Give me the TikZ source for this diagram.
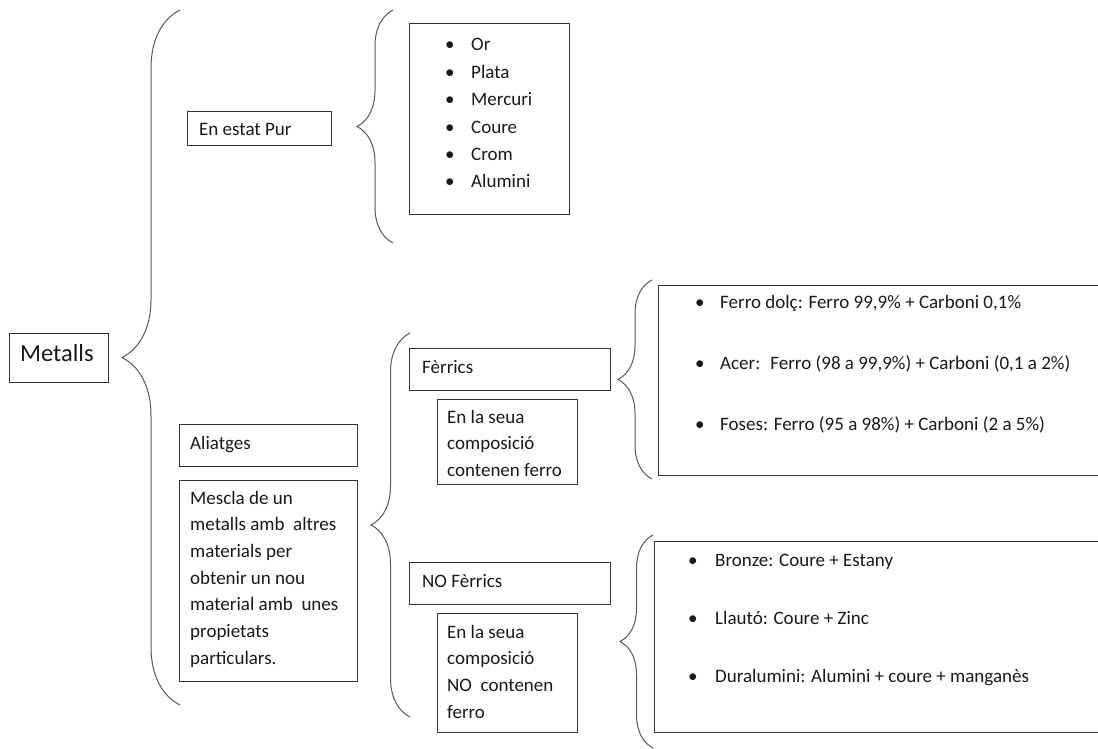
\documentclass[tikz,border=0pt]{standalone}
\usepackage{fontspec}
\setmainfont{Carlito}
\usepackage{tikz}
\usetikzlibrary{
  positioning,
  decorations.pathreplacing
}
\tikzset{>=stealth}
\tikzset{
  box/.style={draw=black!80, line width=1.2pt, inner sep=0pt, anchor=north west},
  curly/.style={draw=black!65, line width=1pt, decorate, decoration={brace, amplitude=#1pt}},
  txt/.style={anchor=base west, inner sep=0pt, text=black!90, font=\fontsize{19}{26.7}\selectfont},
  bigtxt/.style={txt, font=\fontsize{24.5}{30}\selectfont},
  dot/.style={txt, font=\fontsize{19}{#1}\selectfont}
}
\newcommand{\itm}[2]{\makebox[#1pt][l]{\textbullet}#2}
\newcommand{\rows}[1]{\begin{tabular}[t]{@{}l@{}}#1\end{tabular}}

\begin{document}
\begin{tikzpicture}[x=1pt, y=-1pt]
	\clip (0,0) rectangle (1098,749);
	\fill[white] (0,0) rectangle (1098,749);
	\node[box, minimum width=99pt, minimum height=49pt] (metalls) at (9,333) {};
	\node[box, minimum width=144pt, minimum height=34pt] (pur) at (187,111) {};
	\node[box, minimum width=160pt, minimum height=191pt] (purlist) at (409,23) {};
	\node[box, minimum width=178pt, minimum height=42pt] (aliatges) at (179,424) {};
	\node[box, minimum width=178pt, minimum height=201pt] (mescla) at (179,480) {};
	\node[box, minimum width=201pt, minimum height=42pt] (ferrics) at (409,348) {};
	\node[box, minimum width=140pt, minimum height=85pt] (ferricsdesc) at (437,399) {};
	\node[box, minimum width=201pt, minimum height=42pt] (noferrics) at (409,562) {};
	\node[box, minimum width=140pt, minimum height=119pt] (noferricsdesc) at (437,613) {};
	\node[box, minimum width=460pt, minimum height=190pt] (ferrolist) at (658,285) {};
	\node[box, minimum width=460pt, minimum height=191pt] (aliatlist) at (654,541) {};
	\node[bigtxt] (metallstxt) at ([shift={(11,28)}]metalls.north west) {Metalls};
	\node[txt] (purtxt) at ([shift={(12,25)}]pur.north west) {En estat Pur};
	\node[dot=27.4] (purlisttxt) at ([shift={(36,28)}]purlist.north west)
		{\rows{\itm{26}{Or}\\\itm{26}{Plata}\\\itm{26}{Mercuri}\\\itm{26}{Coure}\\\itm{26}{Crom}\\\itm{26}{Alumini}}};
	\node[txt] (aliatgestxt) at ([shift={(11,25)}]aliatges.north west) {Aliatges};
	\node[txt] (mesclatxt) at ([shift={(11,24)}]mescla.north west)
		{\rows{Mescla de un\\metalls amb~ altres\\materials per\\obtenir un nou\\material amb~ unes\\propietats\\particulars.}};
	\node[txt] (ferricstxt) at ([shift={(13,25)}]ferrics.north west) {Fèrrics};
	\node[txt] (ferricsdesctxt) at ([shift={(10,24)}]ferricsdesc.north west)
		{\rows{En la seua\\composició\\contenen ferro}};
	\node[txt] (noferricstxt) at ([shift={(13,25)}]noferrics.north west) {NO Fèrrics};
	\node[txt] (noferricsdesctxt) at ([shift={(10,25)}]noferricsdesc.north west)
		{\rows{En la seua\\composició\\NO~ contenen\\ferro}};
	\node[dot=61] (ferrolisttxt) at ([shift={(37,23)}]ferrolist.north west)
		{\rows{\itm{25}{Ferro dolç: Ferro 99,9\% + Carboni 0,1\%}\\\itm{25}{Acer:~ Ferro (98 a 99,9\%) + Carboni (0,1 a 2\%)}\\\itm{25}{Foses: Ferro (95 a 98\%) + Carboni (2 a 5\%)}}};
	\node[dot=58] (aliatlisttxt) at ([shift={(34,25)}]aliatlist.north west)
		{\rows{\itm{27}{Bronze: Coure + Estany}\\\itm{27}{Llautó: Coure + Zinc}\\\itm{27}{Duralumini: Alumini + coure + manganès}}};
	\draw[curly=58] (180,705) -- (180,10);
	\draw[curly=36] (393,243) -- (393,10);
	\draw[curly=39] (410,717) -- (410,333);
	\draw[curly=34] (652,479) -- (652,280);
	\draw[curly=33] (653,748) -- (653,535);
\end{tikzpicture}
\end{document}
